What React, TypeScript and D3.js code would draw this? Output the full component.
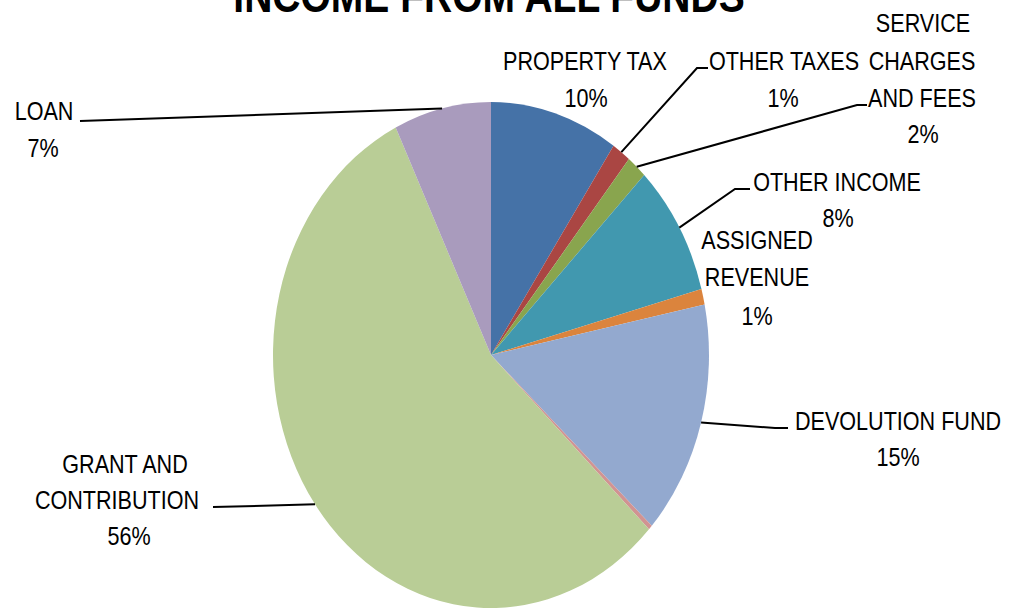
import React from "react";
import * as d3 from "d3";

const title = "INCOME FROM ALL FUNDS";
const categories = [
  "PROPERTY TAX",
  "OTHER TAXES",
  "SERVICE\nCHARGES\nAND FEES",
  "OTHER INCOME",
  "ASSIGNED\nREVENUE",
  "DEVOLUTION FUND",
  "",
  "GRANT AND\nCONTRIBUTION",
  "LOAN",
];
const values = [9.5, 1.4, 1.5, 8.4, 1.0, 15.0, 0.3, 55.7, 7.2];
const percentLabels = ["10%", "1%", "2%", "8%", "1%", "15%", "", "56%", "7%"];
const colors = [
  "#4572A7",
  "#AA4643",
  "#89A54E",
  "#4198AF",
  "#DB843D",
  "#93A9CF",
  "#D19392",
  "#B9CD96",
  "#A99BBD",
];

// layout: centers/baselines of each label line (last line = percent), and leader elbow points
const labelPos: { lines: [number, number][]; leader: [number, number][] | null }[] = [
  { lines: [[585, 70], [586, 107]], leader: null },
  { lines: [[784, 70], [783, 107]], leader: [[697, 68], [708, 68]] },
  { lines: [[923, 32], [922, 70], [922, 107], [923, 143]], leader: [[857, 105], [867, 105]] },
  { lines: [[837, 191], [838, 227]], leader: [[735, 189], [750, 189]] },
  { lines: [[757, 249], [757, 286], [757, 325]], leader: null },
  { lines: [[898, 430], [898, 466]], leader: [[775, 428], [788, 428]] },
  { lines: [], leader: null },
  { lines: [[125, 473], [117, 509], [129, 545]], leader: [[213, 507]] },
  { lines: [[44, 120], [43, 157]], leader: [[80, 121]] },
];

const W = 1011;
const H = 610;
const cx = 491;
const cy = 355;
const rx = 218;
const ry = 253;
const FONT = "'Liberation Sans', Arial, sans-serif";
const SX = 0.83;

export default function App() {
  const pie = d3
    .pie<number>()
    .sort(null)
    .value((d) => d);
  const arcs = pie(values);
  const arcGen = d3.arc<d3.PieArcDatum<number>>().innerRadius(0).outerRadius(rx);
  const line = d3.line();

  return (
    <svg
      width={W}
      height={H}
      style={{ position: "absolute", left: 0, top: 0, display: "block", background: "#fff" }}
    >
      <text
        transform={`translate(489,12) scale(${SX},1)`}
        textAnchor="middle"
        fontFamily={FONT}
        fontWeight="bold"
        fontSize={47}
        fill="#000"
      >
        {title}
      </text>
      <g transform={`translate(${cx},${cy}) scale(1,${ry / rx})`}>
        {arcs.map((a, i) => (
          <path key={i} d={arcGen(a) || ""} fill={colors[i]} />
        ))}
      </g>
      {arcs.map((a, i) => {
        const lp = labelPos[i];
        const mid = (a.startAngle + a.endAngle) / 2;
        const sx = cx + rx * Math.sin(mid);
        const sy = cy - ry * Math.cos(mid);
        const textLines = categories[i] ? categories[i].split("\n") : [];
        if (percentLabels[i]) textLines.push(percentLabels[i]);
        return (
          <g key={i}>
            {lp.leader && (
              <path
                d={line([[sx, sy], ...lp.leader]) || ""}
                fill="none"
                stroke="#000"
                strokeWidth={2}
              />
            )}
            {textLines.map((t, j) =>
              lp.lines[j] ? (
                <text
                  key={j}
                  transform={`translate(${lp.lines[j][0]},${lp.lines[j][1]}) scale(${SX},1)`}
                  textAnchor="middle"
                  fontFamily={FONT}
                  fontSize={26}
                  fill="#000"
                >
                  {t}
                </text>
              ) : null
            )}
          </g>
        );
      })}
    </svg>
  );
}
